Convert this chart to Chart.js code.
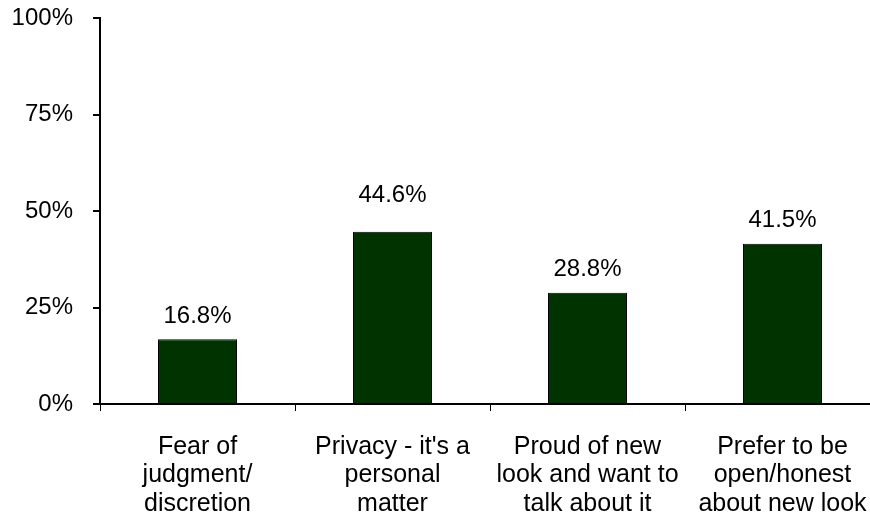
<!DOCTYPE html>
<html>
<head>
<meta charset="utf-8">
<script src="https://cdn.jsdelivr.net/npm/chart.js"></script>
<style>
    html, body { margin: 0; padding: 0; background: #fff; overflow: hidden; }
    #wrap { position: absolute; left: 0; top: 0; width: 880px; height: 518px; }
</style>
</head>
<body>
<div id="wrap"><canvas id="reasonChart"></canvas></div>

<script>
// chart data
const categories = [
    ["Fear of", "judgment/", "discretion"],
    ["Privacy - it's a", "personal", "matter"],
    ["Proud of new", "look and want to", "talk about it"],
    ["Prefer to be", "open/honest", "about new look"]
];
const percentValues = [16.8, 44.6, 28.8, 41.5];
const yTicks = [0, 25, 50, 75, 100];

// extra lift for value labels (the 44.6% one sits higher in the original)
const labelLift = [0, 13, 0, 0];

document.addEventListener("DOMContentLoaded", function () {

    Chart.defaults.font.family = "'Liberation Sans', Arial, sans-serif";
    Chart.defaults.font.size = 24;
    Chart.defaults.color = "#000";

    // draws the value above each bar
    const valueLabels = {
        id: "valueLabels",
        afterDatasetsDraw(chart) {
            const ctx = chart.ctx;
            const meta = chart.getDatasetMeta(0);
            ctx.save();
            ctx.font = "24px 'Liberation Sans', Arial, sans-serif";
            ctx.fillStyle = "#000";
            ctx.textAlign = "center";
            ctx.textBaseline = "middle";
            meta.data.forEach(function (bar, i) {
                const v = chart.data.datasets[0].data[i];
                ctx.fillText(v.toFixed(1) + "%", bar.x, bar.y - 23 - labelLift[i]);
            });
            ctx.restore();
        }
    };

    new Chart(document.getElementById("reasonChart"), {
        type: "bar",
        data: {
            labels: categories,
            datasets: [{
                data: percentValues,
                backgroundColor: "#003300",
                borderColor: "#000",
                borderWidth: 1,
                categoryPercentage: 1,
                barPercentage: 0.405
            }]
        },
        options: {
            responsive: true,
            maintainAspectRatio: false,
            animation: false,
            layout: { padding: { top: 18, right: 0, bottom: 0, left: 0 } },
            plugins: {
                legend: { display: false },
                tooltip: { enabled: false }
            },
            scales: {
                y: {
                    min: 0,
                    max: 100,
                    afterBuildTicks: function (scale) {
                        scale.ticks = yTicks.map(v => ({ value: v }));
                    },
                    afterFit: function (scale) {
                        scale.width = 100;
                        scale.paddingTop = 0;
                        scale.paddingBottom = 0;
                    },
                    border: { color: "#000", width: 2 },
                    grid: {
                        drawOnChartArea: false,
                        tickLength: 7,
                        tickColor: "#000",
                        lineWidth: 2
                    },
                    ticks: {
                        padding: 20,
                        callback: v => v + "%"
                    }
                },
                x: {
                    afterFit: function (scale) {
                        scale.height = 114;
                        scale.paddingLeft = 0;
                        scale.paddingRight = 0;
                    },
                    border: { color: "#000", width: 2 },
                    grid: {
                        drawOnChartArea: false,
                        tickLength: 7,
                        tickColor: "#000",
                        lineWidth: 1
                    },
                    ticks: {
                        padding: 22,
                        maxRotation: 0,
                        autoSkip: false,
                        font: { size: 25, lineHeight: 1.13 }
                    }
                }
            }
        },
        plugins: [valueLabels]
    });
});
</script>
</body>
</html>
